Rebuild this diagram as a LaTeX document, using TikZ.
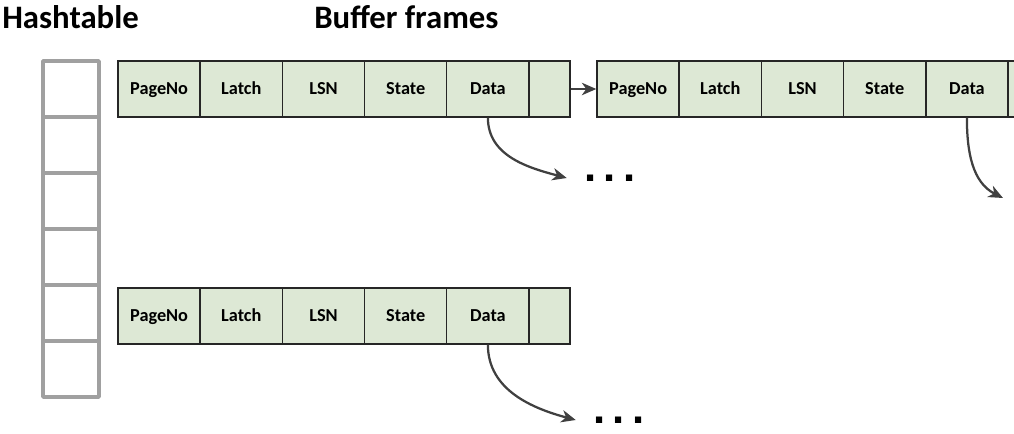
\documentclass[tikz,border=0pt]{standalone}
\usepackage{fontspec}
\setmainfont{Carlito}
\newfontfamily\dotfont{Liberation Sans}
\usepackage{xcolor}
\usepackage{tikz}
\usetikzlibrary{arrows.meta}

\definecolor{framegreen}{RGB}{221,232,213}
\definecolor{tablegray}{RGB}{160,160,160}
\definecolor{arrowgray}{RGB}{64,64,64}

\begin{document}
\begin{tikzpicture}[x=0.025cm, y=-0.025cm, auto, >={Stealth[length=3.6mm, width=3.1mm, inset=1.1mm]},
	field/.style={rectangle, draw=black!85, fill=framegreen, line width=1pt, minimum width=2.055cm, minimum height=1.4cm, inner sep=0pt, text height=9.75pt, text depth=1.4pt, font=\fontsize{13}{15}\selectfont\bfseries},
	slot/.style={rectangle, draw=tablegray, line width=2.5pt, line join=round, minimum width=1.4cm, minimum height=1.4cm, inner sep=0pt},
	link/.style={->, draw=arrowgray, line width=1.6pt},
	title/.style={anchor=base west, inner sep=0pt, font=\fontsize{23.3}{27}\selectfont\bfseries},
	more/.style={inner xsep=0.43cm, inner ysep=0pt, font=\fontsize{31}{31}\dotfont\bfseries}]

\useasboundingbox (0,0) rectangle (1014,434);
\clip (0,0) rectangle (1014,434);

\node[title] (ht) at (2,28) {Hashtable};
\node[title] (bf) at (314,28) {Buffer frames};

% hashtable
\foreach \i in {0,...,5}
{
	\node[slot] (h\i) at (71,89+56*\i) {};
}

% buffer frames
\foreach \f/\x/\y in {a/118/89, b/597/89, c/118/316}
{
	\foreach \lab [count=\k from 0] in {PageNo,Latch,LSN,State,Data}
	{
		\node[field] (\f\k) at (\x+41.1+82.2*\k,\y) {\lab};
	}
	\node[field, minimum width=1.025cm] (\f5) at (\x+431.5,\y) {};
}

\node[more] (dotsA) at (610,178) {.\hspace{1.9mm}.\hspace{1.9mm}.};
\node[more] (dotsC) at (619,420) {.\hspace{1.9mm}.\hspace{1.9mm}.};
\coordinate (bend) at (1003,198);

\draw[link] (a5.east) -- (b0.west);
\draw[link] (a4.south) to[out=-90, in=165] (dotsA.west);
\draw[link] (b4.south) to[out=-90, in=153] (bend);
\draw[link] (c4.south) to[out=-90, in=165] (dotsC.west);

\end{tikzpicture}
\end{document}
